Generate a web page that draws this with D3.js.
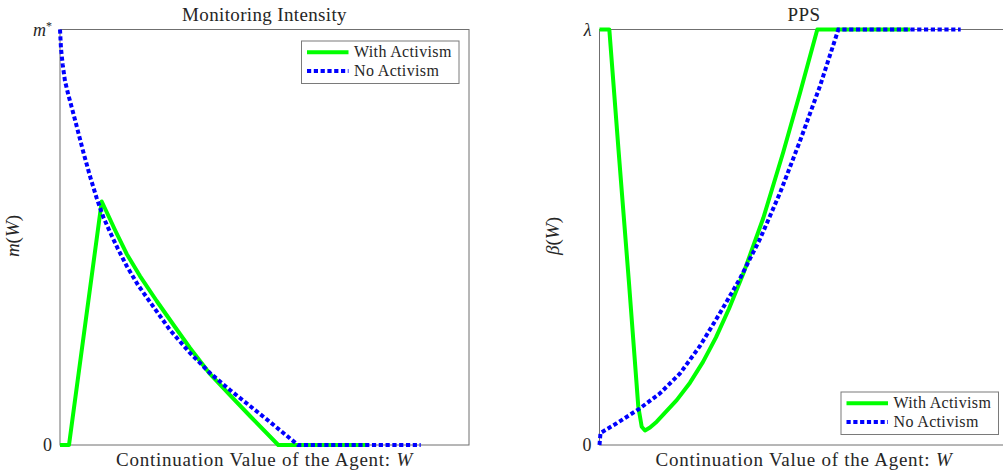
<!DOCTYPE html>
<html>
<head>
<meta charset="utf-8">
<script src="https://cdn.jsdelivr.net/npm/d3@7"></script>
<style>
  body { margin: 0; background: #fff; }
  text { font-family: "Liberation Serif", "Times New Roman", serif; fill: #262626; }
</style>
</head>
<body>
<svg width="1003" height="475"></svg>
<script>

// monitoring intensity, with activism (W scaled 0..1, m scaled to m* = 1)
var monW_act = [0, 0.022, 0.102, 0.1141, 0.1345, 0.1631, 0.1956, 0.2364, 0.2812, 0.3178,
                0.3667, 0.4156, 0.4645, 0.5337, 0.751];
var monM_act = [0, 0, 0.586, 0.5608, 0.5174, 0.4597, 0.4067, 0.3466, 0.284, 0.2335,
                0.1709, 0.1203, 0.0698, 0, 0];

// monitoring intensity, no activism
var monW_no = [0, 0.0024, 0.0066, 0.0122, 0.0203, 0.0286, 0.0408, 0.057, 0.0733, 0.0897, 0.1059,
               0.1222, 0.1418, 0.1631, 0.1907, 0.22, 0.2689, 0.3178, 0.3667, 0.4156, 0.4645,
               0.5134, 0.5819, 0.8819];
var monM_no = [1, 0.955, 0.915, 0.876, 0.843, 0.813, 0.767, 0.705, 0.647, 0.594, 0.5487,
               0.5126, 0.4717, 0.4308, 0.3851, 0.3442, 0.2768, 0.2214, 0.1733, 0.1324, 0.0939,
               0.0554, 0, 0];

// PPS, with activism (beta scaled to lambda = 1)
var ppsW_act = [0, 0.024, 0.0465, 0.0721, 0.0949, 0.1032, 0.1112, 0.1235, 0.1399, 0.1888, 0.2213,
                0.2531, 0.2848, 0.3166, 0.3516, 0.4005, 0.4494, 0.4902, 0.5325, 0.7592];
var ppsB_act = [1, 1, 0.71, 0.39, 0.092, 0.044, 0.035, 0.042, 0.056, 0.108, 0.15,
                0.2, 0.259, 0.328, 0.4125, 0.5463, 0.7052, 0.8472, 1, 1];

// PPS, no activism
var ppsW_no = [0, 0.0024, 0.0421, 0.099, 0.1479, 0.1968, 0.2457, 0.2946, 0.3435, 0.3924,
               0.4413, 0.4902, 0.5391, 0.5839, 0.8831];
var ppsB_no = [0, 0.0289, 0.0522, 0.0883, 0.1244, 0.1721, 0.2383, 0.3177, 0.4007, 0.4958,
               0.6065, 0.7316, 0.864, 1, 1];

var seriesNames = ["With Activism", "No Activism"];

var svg = d3.select("svg");
var boxW = 409, boxTop = 29.5, boxBottom = 445;

function zip(xs, ys) {
  return xs.map(function(x, i) { return [x, ys[i]]; });
}

function drawPanel(left, title, yLab, topLab, series, legendPos) {
  var x = d3.scaleLinear().domain([0, 1]).range([left, left + boxW]);
  var y = d3.scaleLinear().domain([0, 1]).range([boxBottom, boxTop]);
  var g = svg.append("g");

  g.append("rect")
    .attr("x", left).attr("y", boxTop)
    .attr("width", boxW).attr("height", boxBottom - boxTop)
    .attr("fill", "none")
    .attr("stroke", "#6f6f6f")
    .attr("stroke-width", 1);

  // y tick labels only (0 and the cap value)
  var ax = g.append("g")
    .attr("transform", "translate(" + left + ",0)")
    .call(d3.axisLeft(y).tickValues([0, 1]).tickSize(0).tickPadding(8).tickFormat(""));
  ax.select(".domain").remove();
  ax.selectAll(".tick text")
    .attr("font-size", 18)
    .attr("fill", "#262626")
    .attr("font-family", "Liberation Serif, serif")
    .each(function(d) {
      var t = d3.select(this);
      if (d === 0) { t.text("0"); return; }
      t.append("tspan").attr("font-style", "italic").text(topLab[0]);
      if (topLab[1]) {
        t.append("tspan").attr("font-size", 12).attr("dy", -6).text(topLab[1]);
      }
    });

  g.append("text")
    .attr("x", left + boxW / 2).attr("y", 21)
    .attr("text-anchor", "middle")
    .attr("font-size", 19)
    .attr("letter-spacing", 0.35)
    .text(title);

  var xl = g.append("text")
    .attr("x", left + boxW / 2).attr("y", 466)
    .attr("text-anchor", "middle")
    .attr("font-size", 19)
    .attr("letter-spacing", 0.75);
  xl.append("tspan").text("Continuation Value of the Agent: ");
  xl.append("tspan").attr("font-style", "italic").text("W");

  var yl = g.append("text")
    .attr("transform", "translate(" + (left - 41) + ",236) rotate(-90)")
    .attr("text-anchor", "middle")
    .attr("font-size", 19);
  yl.append("tspan").attr("font-style", "italic").text(yLab);
  yl.append("tspan").text("(");
  yl.append("tspan").attr("font-style", "italic").text("W");
  yl.append("tspan").text(")");

  var line = d3.line()
    .x(function(d) { return x(d[0]); })
    .y(function(d) { return y(d[1]); });

  g.append("path")
    .datum(series[0])
    .attr("d", line)
    .attr("fill", "none")
    .attr("stroke", "#00ff00")
    .attr("stroke-width", 4)
    .attr("stroke-linejoin", "round");

  g.append("path")
    .datum(series[1])
    .attr("d", line)
    .attr("fill", "none")
    .attr("stroke", "#0000ff")
    .attr("stroke-width", 4)
    .attr("stroke-dasharray", "4.2,2.6");

  // legend
  var lg = g.append("g").attr("transform", "translate(" + legendPos[0] + "," + legendPos[1] + ")");
  lg.append("rect")
    .attr("width", 157.5).attr("height", 42.5)
    .attr("fill", "#fff")
    .attr("stroke", "#7a7a7a")
    .attr("stroke-width", 1);
  seriesNames.forEach(function(name, i) {
    var yy = 11.3 + i * 18.8;
    lg.append("line")
      .attr("x1", 5.5).attr("x2", 47)
      .attr("y1", yy).attr("y2", yy)
      .attr("stroke", i === 0 ? "#00ff00" : "#0000ff")
      .attr("stroke-width", 4)
      .attr("stroke-dasharray", i === 0 ? null : "4.2,2.6");
    lg.append("text")
      .attr("x", 52.5).attr("y", yy + 4.6)
      .attr("font-size", 16)
      .attr("letter-spacing", 0.35)
      .text(name);
  });
}

drawPanel(60, "Monitoring Intensity", "m", ["m", "*"],
  [zip(monW_act, monM_act), zip(monW_no, monM_no)], [301.5, 41]);

drawPanel(599.5, "PPS", "β", ["λ"],
  [zip(ppsW_act, ppsB_act), zip(ppsW_no, ppsB_no)], [841, 392]);

</script>
</body>
</html>
